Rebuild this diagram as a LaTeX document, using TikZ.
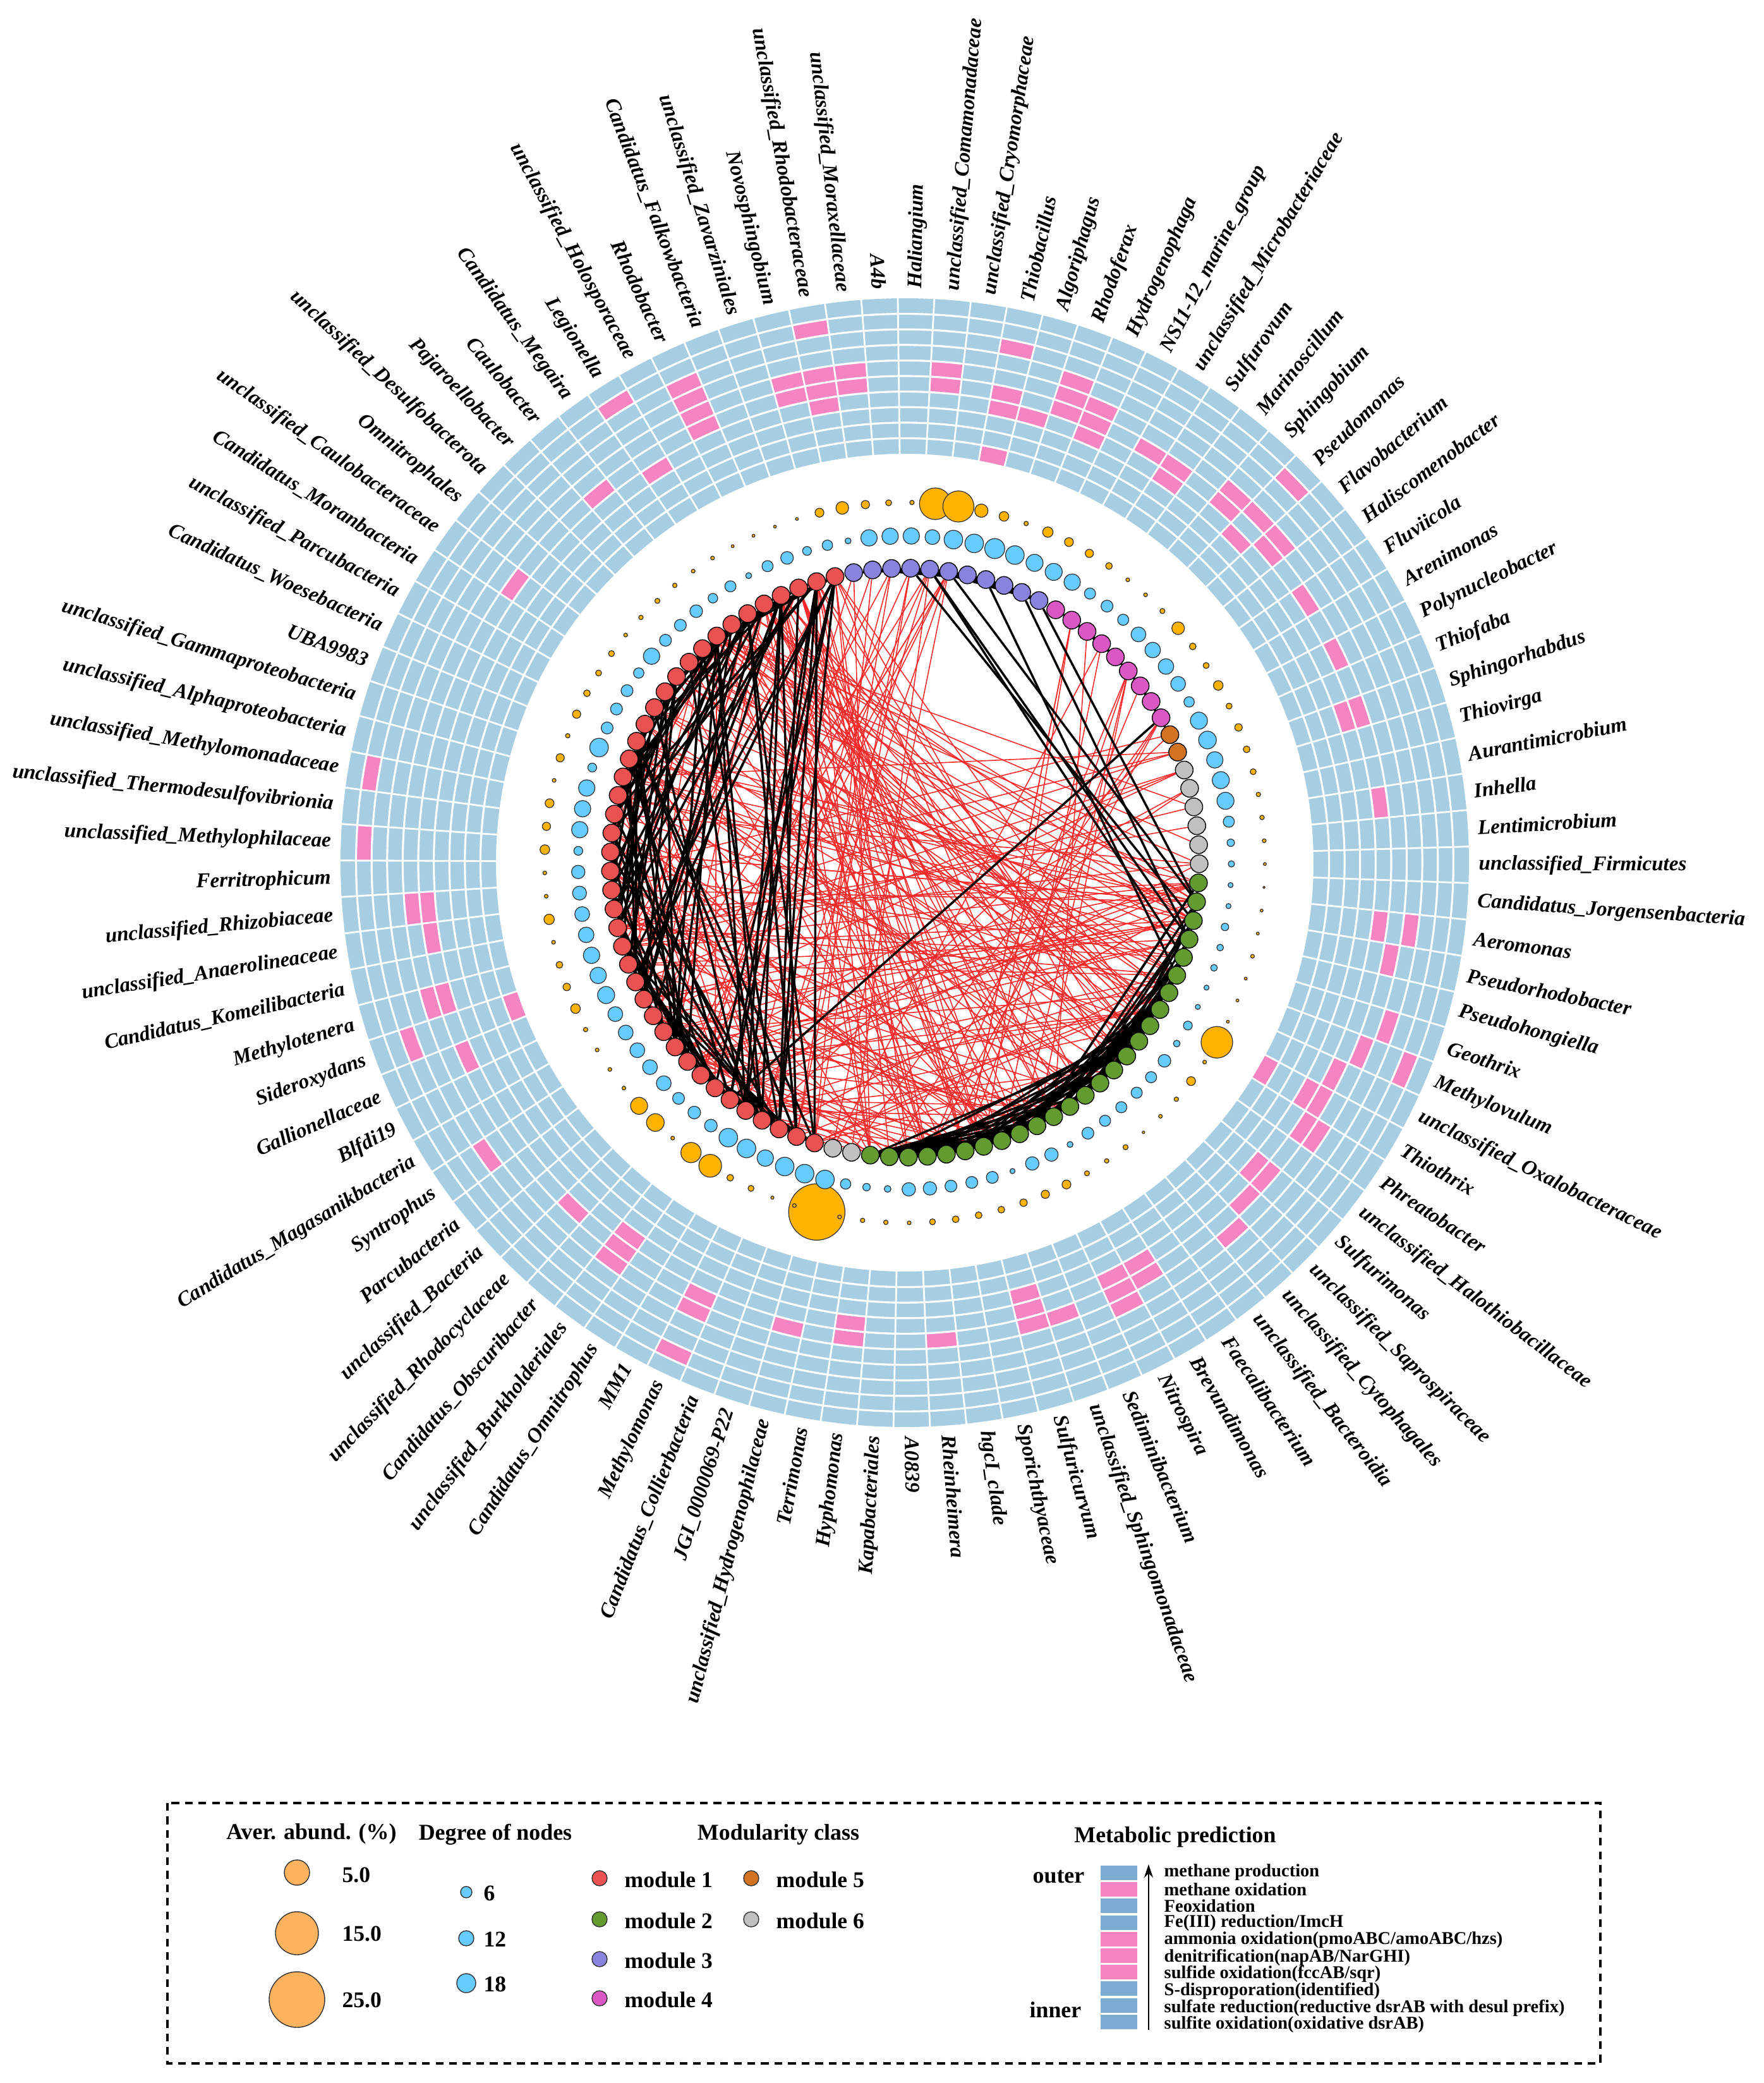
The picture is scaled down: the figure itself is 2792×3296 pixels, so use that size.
\documentclass[tikz,border=0pt]{standalone}
\usepackage{fontspec}
\setmainfont{Liberation Serif}
\usepackage{tikz}
\usetikzlibrary{arrows.meta}
\pgfdeclarelayer{links}
\pgfsetlayers{links,main}
\definecolor{ringblue}{RGB}{166,205,225}
\definecolor{cellpink}{RGB}{245,132,192}
\definecolor{legblue}{RGB}{125,172,210}
\definecolor{modone}{RGB}{234,82,82}
\definecolor{modtwo}{RGB}{99,155,48}
\definecolor{modthree}{RGB}{137,131,222}
\definecolor{modfour}{RGB}{218,88,196}
\definecolor{modfive}{RGB}{210,115,34}
\definecolor{modsix}{RGB}{192,192,192}
\definecolor{degblue}{RGB}{102,204,255}
\definecolor{abuorange}{RGB}{255,178,0}
\definecolor{legorange}{RGB}{252,178,95}
\definecolor{negred}{RGB}{250,40,40}

\begin{document}
\begin{tikzpicture}[x=0.01cm,y=0.01cm,
  netnode/.style={circle,draw=black,line width=0.4pt,inner sep=0pt,minimum size=0.28cm},
  poslink/.style={draw=black,line width=1pt},
  neglink/.style={draw=negred,line width=0.45pt},
  genus/.style={font=\fontsize{9.4}{10}\selectfont\bfseries\itshape,inner sep=0pt},
  legtitle/.style={font=\fontsize{10.2}{12}\selectfont\bfseries,inner sep=0pt},
  legtext/.style={font=\fontsize{10.1}{12}\selectfont\bfseries,inner sep=0pt,anchor=west},
  mettext/.style={font=\fontsize{8.1}{9}\selectfont\bfseries,inner sep=0pt,anchor=west}]
\useasboundingbox (-1432,-1931) rectangle (1360,1365);

% Metabolic heatmap (10 rings)
\fill[ringblue,even odd rule] (0,0) circle[radius=893] circle[radius=647];
\foreach \c/\k in {1/5,1/6,3/3,3/6,3/7,3/10,4/7,5/4,5/5,5/6,6/5,6/6,6/7,8/6,9/6,9/7,11/5,11/6,12/2,12/5,12/7,13/5,13/6,15/6,17/6,19/6,19/7,22/6,26/4,26/6,27/5,29/4,30/2,30/5,31/6,32/6,32/7,32/10,33/5,33/6,35/6,35/7,36/6,37/5,40/6,40/7,41/5,41/6,41/7,43/6,44/6,44/7,44/8,47/6,50/6,50/7,52/6,55/2,55/5,55/6,58/5,58/6,58/7,60/6,63/4,66/6,67/3,67/10,68/5,68/6,70/6,71/5,71/6,73/2,75/2,82/6,86/6,88/2,88/7,90/3,90/4,90/5,90/6,93/5,93/6,94/2,94/5,94/6,94/7,95/5,95/6}{
  \pgfmathsetmacro\ta{88.85-3.7113*\c-1.8557}
  \pgfmathsetmacro\tb{\ta+3.7113}
  \pgfmathsetmacro\ro{893-24.6*(\k-1)}
  \pgfmathsetmacro\ri{\ro-24.6}
  \fill[cellpink] (\ta:\ri) arc[start angle=\ta,end angle=\tb,radius=\ri] -- (\tb:\ro) arc[start angle=\tb,end angle=\ta,radius=\ro] -- cycle;
}
\foreach \i in {0,...,96}{
  \pgfmathsetmacro\t{88.85-3.7113*\i+1.8557}
  \draw[white,line width=0.8pt] (\t:645) -- (\t:895);
}
\foreach \k in {1,...,9}
  \draw[white,line width=0.9pt] (0,0) circle[radius={893-24.6*\k}];

% Genus labels
\foreach \name [count=\i from 0] in {Haliangium,
 unclassified\_Comamonadaceae, unclassified\_Cryomorphaceae, Thiobacillus, Algoriphagus,
 Rhodoferax, Hydrogenophaga, NS11-12\_marine\_group, unclassified\_Microbacteriaceae,
 Sulfurovum, Marinoscillum, Sphingobium, Pseudomonas, Flavobacterium, Haliscomenobacter,
 Fluviicola, Arenimonas, Polynucleobacter, Thiofaba, Sphingorhabdus, Thiovirga,
 Aurantimicrobium, Inhella, Lentimicrobium, unclassified\_Firmicutes,
 Candidatus\_Jorgensenbacteria, Aeromonas, Pseudorhodobacter, Pseudohongiella, Geothrix,
 Methylovulum, unclassified\_Oxalobacteraceae, Thiothrix, Phreatobacter,
 unclassified\_Halothiobacillaceae, Sulfurimonas, unclassified\_Saprospiraceae,
 unclassified\_Cytophagales, unclassified\_Bacteroidia, Faecalibacterium, Brevundimonas,
 Nitrospira, Sediminibacterium, unclassified\_Sphingomonadaceae, Sulfuricurvum,
 Sporichthyaceae, hgcI\_clade, Rheinheimera, A0839, Kapabacteriales, Hyphomonas,
 Terrimonas, unclassified\_Hydrogenophilaceae, JGI\_0000069-P22, Candidatus\_Collierbacteria,
 Methylomonas, MM1, Candidatus\_Omnitrophus, unclassified\_Burkholderiales,
 Candidatus\_Obscuribacter, unclassified\_Rhodocyclaceae, unclassified\_Bacteria,
 Parcubacteria, Syntrophus, Candidatus\_Magasanikbacteria, Blfdi19, Gallionellaceae,
 Sideroxydans, Methylotenera, Candidatus\_Komeilibacteria, unclassified\_Anaerolineaceae,
 unclassified\_Rhizobiaceae, Ferritrophicum, unclassified\_Methylophilaceae,
 unclassified\_Thermodesulfovibrionia, unclassified\_Methylomonadaceae,
 unclassified\_Alphaproteobacteria, unclassified\_Gammaproteobacteria, UBA9983,
 Candidatus\_Woesebacteria, unclassified\_Parcubacteria, Candidatus\_Moranbacteria,
 unclassified\_Caulobacteraceae, Omnitrophales, unclassified\_Desulfobacterota,
 Pajaroellobacter, Caulobacter, Candidatus\_Megaira, Legionella,
 unclassified\_Holosporaceae, Rhodobacter, Candidatus\_Falkowbacteria,
 unclassified\_Zavarziniales, Novosphingobium, unclassified\_Rhodobacteraceae,
 unclassified\_Moraxellaceae, A4b}{
  \pgfmathsetmacro\ang{88.85-3.7113*\i}
  \ifnum\i<49
    \node[genus,anchor=west,rotate=\ang] (g\i) at (\ang:908) {\name};
  \else
    \pgfmathsetmacro\rot{\ang+180}
    \node[genus,anchor=east,rotate=\rot] (g\i) at (\ang:908) {\name};
  \fi
}

% Average abundance (outer dots), big ones first
\def\abulist{3.5,25,24.6,10.5,7.6,3.5,8.2,7,6.5,5.3,3,3,4,10,5.3,4.7,7.6,4.7,5.9,5.3,4.7,3.5,3.5,3,2.3,1.8,2.3,2.3,3,2.3,2.3,2.3,25,3,7,3.5,3,2,4,3.5,4,7,6.5,5.9,5.3,5.3,5.3,4.7,3,3.5,3.5,3,44.6,3,2.5,4.7,5.3,18,16,3,14,13.5,3,3,3,3.5,7.6,5.9,5.3,3,8.2,3,3,7.6,6.5,7,3,6.5,3.5,6.5,5.3,4.7,4.7,3,3.5,4,3.5,3,3,2.3,2.3,2.3,2.3,7,10,6.5,4.7}
\foreach \r [count=\i from 0] in \abulist{
  \ifdim\r pt>12pt
    \pgfmathsetmacro\ang{88.85-3.7113*\i}
    \filldraw[fill=abuorange,draw=black!80,line width=0.35pt] (\ang:570) circle[radius=\r];
  \fi
}
\foreach \r [count=\i from 0] in \abulist{
  \ifdim\r pt<12pt
    \pgfmathsetmacro\ang{88.85-3.7113*\i}
    \filldraw[fill=abuorange,draw=black!80,line width=0.35pt] (\ang:570) circle[radius=\r];
  \fi
}

% Degree of nodes (middle dots)
\foreach \r [count=\i from 0] in {13,11.7,14.7,14.7,15.8,14.7,13.5,13.5,13,8.8,9.4,8.8,11.7,12.3,12.3,11.7,8.2,13.5,14,13,13.5,13.5,8.8,5.9,5,4,4,5.9,5.3,5.3,4,4,7,5.3,10,8.8,8.8,8.8,8.8,9.4,4.7,10.6,10.6,4,9.4,9.4,9.4,10.6,10.6,5.3,5.9,8.2,14.7,14.7,14.7,13,14.7,14.7,10,10,9.4,11.7,11.7,11.7,11.7,11.7,13.5,13,13,12.3,11.7,11,10.6,7,13,13,13,7,14.7,9.4,9.4,9.4,8.2,13,9.4,9.4,10,7.6,8.8,4.7,8.8,10,7,8.2,4.7,13,13}{
  \pgfmathsetmacro\ang{88.85-3.7113*\i}
  \filldraw[fill=degblue,draw=black!80,line width=0.35pt] (\ang:517) circle[radius=\r];
}

% Network nodes coloured by module
\foreach \i in {0,...,96}{
  \pgfmathsetmacro\ang{88.85-3.7113*\i}
  \ifnum\i<8 \def\mc{modthree}\else
  \ifnum\i<17 \def\mc{modfour}\else
  \ifnum\i<19 \def\mc{modfive}\else
  \ifnum\i<25 \def\mc{modsix}\else
  \ifnum\i<51 \def\mc{modtwo}\else
  \ifnum\i<53 \def\mc{modsix}\else
  \ifnum\i<94 \def\mc{modone}\else \def\mc{modthree}\fi\fi\fi\fi\fi\fi\fi
  \node[netnode,fill=\mc] (n\i) at (\ang:466) {};
}

% Links: red = negative, black = positive
\pgfmathsetseed{11}
\begin{pgfonlayer}{links}
% top of module 1 to lower module 2
\foreach \k in {1,...,45}{
  \pgfmathrandominteger{\a}{86}{93}\pgfmathrandominteger{\b}{33}{50}
  \draw[neglink] (n\a) -- (n\b);
}
% module 1 to the right part of module 2
\foreach \k in {1,...,60}{
  \pgfmathrandominteger{\a}{53}{88}\pgfmathrandominteger{\b}{25}{32}
  \draw[neglink] (n\a) -- (n\b);
}
\foreach \k in {1,...,55}{
  \pgfmathrandominteger{\a}{53}{85}\pgfmathrandominteger{\b}{33}{50}
  \draw[neglink] (n\a) -- (n\b);
}
% module 3 to the bottom
\foreach \k in {1,...,20}{
  \pgfmathrandominteger{\s}{0}{5}\pgfmathrandominteger{\b}{50}{64}
  \pgfmathtruncatemacro\a{mod(94+\s,97)}
  \draw[neglink] (n\a) -- (n\b);
}
% module 4 to the bottom
\foreach \k in {1,...,14}{
  \pgfmathrandominteger{\a}{8}{16}\pgfmathrandominteger{\b}{40}{52}
  \draw[neglink] (n\a) -- (n\b);
}
% modules 5, 6 to module 1
\foreach \k in {1,...,18}{
  \pgfmathrandominteger{\a}{17}{24}\pgfmathrandominteger{\b}{55}{86}
  \draw[neglink] (n\a) -- (n\b);
}
\foreach \k in {1,...,22}{
  \pgfmathrandominteger{\a}{53}{93}\pgfmathrandominteger{\d}{3}{30}
  \pgfmathtruncatemacro\b{53+mod(\a-53+\d,41)}
  \draw[neglink] (n\a) -- (n\b);
}
% module 1
\foreach \k in {1,...,120}{
  \pgfmathrandominteger{\a}{53}{93}\pgfmathrandominteger{\d}{1}{40}
  \pgfmathtruncatemacro\b{53+mod(\a-53+\d,41)}
  \draw[poslink] (n\a) -- (n\b);
}
\foreach \a/\b in {55/93,55/91,56/90,54/88,57/92,56/86}
  \draw[poslink] (n\a) -- (n\b);
% module 2
\foreach \k in {1,...,110}{
  \pgfmathrandominteger{\a}{25}{48}\pgfmathrandominteger{\d}{2}{16}
  \pgfmathtruncatemacro\b{min(\a+\d,50)}
  \draw[poslink] (n\a) -- (n\b);
}
% module 3
\foreach \k in {1,...,30}{
  \pgfmathrandominteger{\s}{0}{9}\pgfmathrandominteger{\d}{1}{6}
  \pgfmathtruncatemacro\a{mod(94+\s,97)}
  \pgfmathtruncatemacro\b{mod(94+min(\s+\d,10),97)}
  \draw[poslink] (n\a) -- (n\b);
}
% module 4
\foreach \k in {1,...,12}{
  \pgfmathrandominteger{\a}{7}{15}\pgfmathrandominteger{\d}{1}{3}
  \pgfmathtruncatemacro\b{min(\a+\d,17)}
  \draw[poslink] (n\a) -- (n\b);
}
\foreach \a/\b in {0/27,1/28,1/29,2/26,6/28,7/26,4/30,16/58}
  \draw[poslink] (n\a) -- (n\b);
\end{pgfonlayer}

% Legend
\draw[line width=1.3pt,dash pattern=on 3.5pt off 2.6pt] (-1167,-1488) rectangle (1101,-1900);
\node[legtitle] (tabu) at (-939,-1537) {Aver. abund. (\%)};
\node[legtitle] (tdeg) at (-648,-1538) {Degree of nodes};
\node[legtitle] (tmod) at (-200,-1538) {Modularity class};
\node[legtitle] (tmet) at (428,-1542) {Metabolic prediction};

\filldraw[fill=legorange,draw=black!80,line width=0.4pt] (-962,-1598) circle[radius=20];
\filldraw[fill=legorange,draw=black!80,line width=0.4pt] (-962,-1694) circle[radius=34];
\filldraw[fill=legorange,draw=black!80,line width=0.4pt] (-962,-1799) circle[radius=44];
\node[legtext] (a5) at (-891,-1602) {5.0};
\node[legtext] (a15) at (-891,-1695) {15.0};
\node[legtext] (a25) at (-891,-1800) {25.0};

\filldraw[fill=degblue,draw=black!80,line width=0.4pt] (-694,-1629) circle[radius=9];
\filldraw[fill=degblue,draw=black!80,line width=0.4pt] (-694,-1702) circle[radius=12];
\filldraw[fill=degblue,draw=black!80,line width=0.4pt] (-694,-1773) circle[radius=15];
\node[legtext] (d6) at (-667,-1631) {6};
\node[legtext] (d12) at (-667,-1704) {12};
\node[legtext] (d18) at (-667,-1775) {18};

\foreach \c/\x/\y/\t in {modone/-483/-1607/1,modtwo/-483/-1672/2,modthree/-483/-1735/3,modfour/-483/-1797/4,modfive/-243/-1607/5,modsix/-243/-1672/6}{
  \filldraw[fill=\c,draw=black!80,line width=0.4pt] (\x,\y) circle[radius=12];
  \node[legtext] (m\t) at (\x+39,\y-2) {module \t};
}

\foreach \c [count=\j from 0] in {legblue,cellpink,legblue,legblue,cellpink,cellpink,cellpink,legblue,legblue,legblue}
  \fill[\c] (310,{-1587-26.2*\j}) rectangle (368,{-1610-26.2*\j});
\node[legtitle,anchor=east] (outer) at (285,-1605) {outer};
\node[legtitle,anchor=east] (inner) at (280,-1815) {inner};
\coordinate (arrlo) at (386,-1847);
\coordinate (arrhi) at (386,-1585);
\draw[-{Stealth[length=6pt,width=4pt]},line width=0.6pt] (arrlo) -- (arrhi);
\node[mettext] (p0) at (410,-1598) {methane production};
\node[mettext] (p1) at (410,-1625) {methane oxidation};
\node[mettext] (p2) at (410,-1651) {Feoxidation};
\node[mettext] (p3) at (410,-1678) {Fe(III) reduction/ImcH};
\node[mettext] (p4) at (410,-1705) {ammonia oxidation(pmoABC/amoABC/hzs)};
\node[mettext] (p5) at (410,-1732) {denitrification(napAB/NarGHI)};
\node[mettext] (p6) at (410,-1758) {sulfide oxidation(fccAB/sqr)};
\node[mettext] (p7) at (410,-1785) {S-disproporation(identified)};
\node[mettext] (p8) at (410,-1812) {sulfate reduction(reductive dsrAB with desul prefix)};
\node[mettext] (p9) at (410,-1838) {sulfite oxidation(oxidative dsrAB)};
\end{tikzpicture}
\end{document}
